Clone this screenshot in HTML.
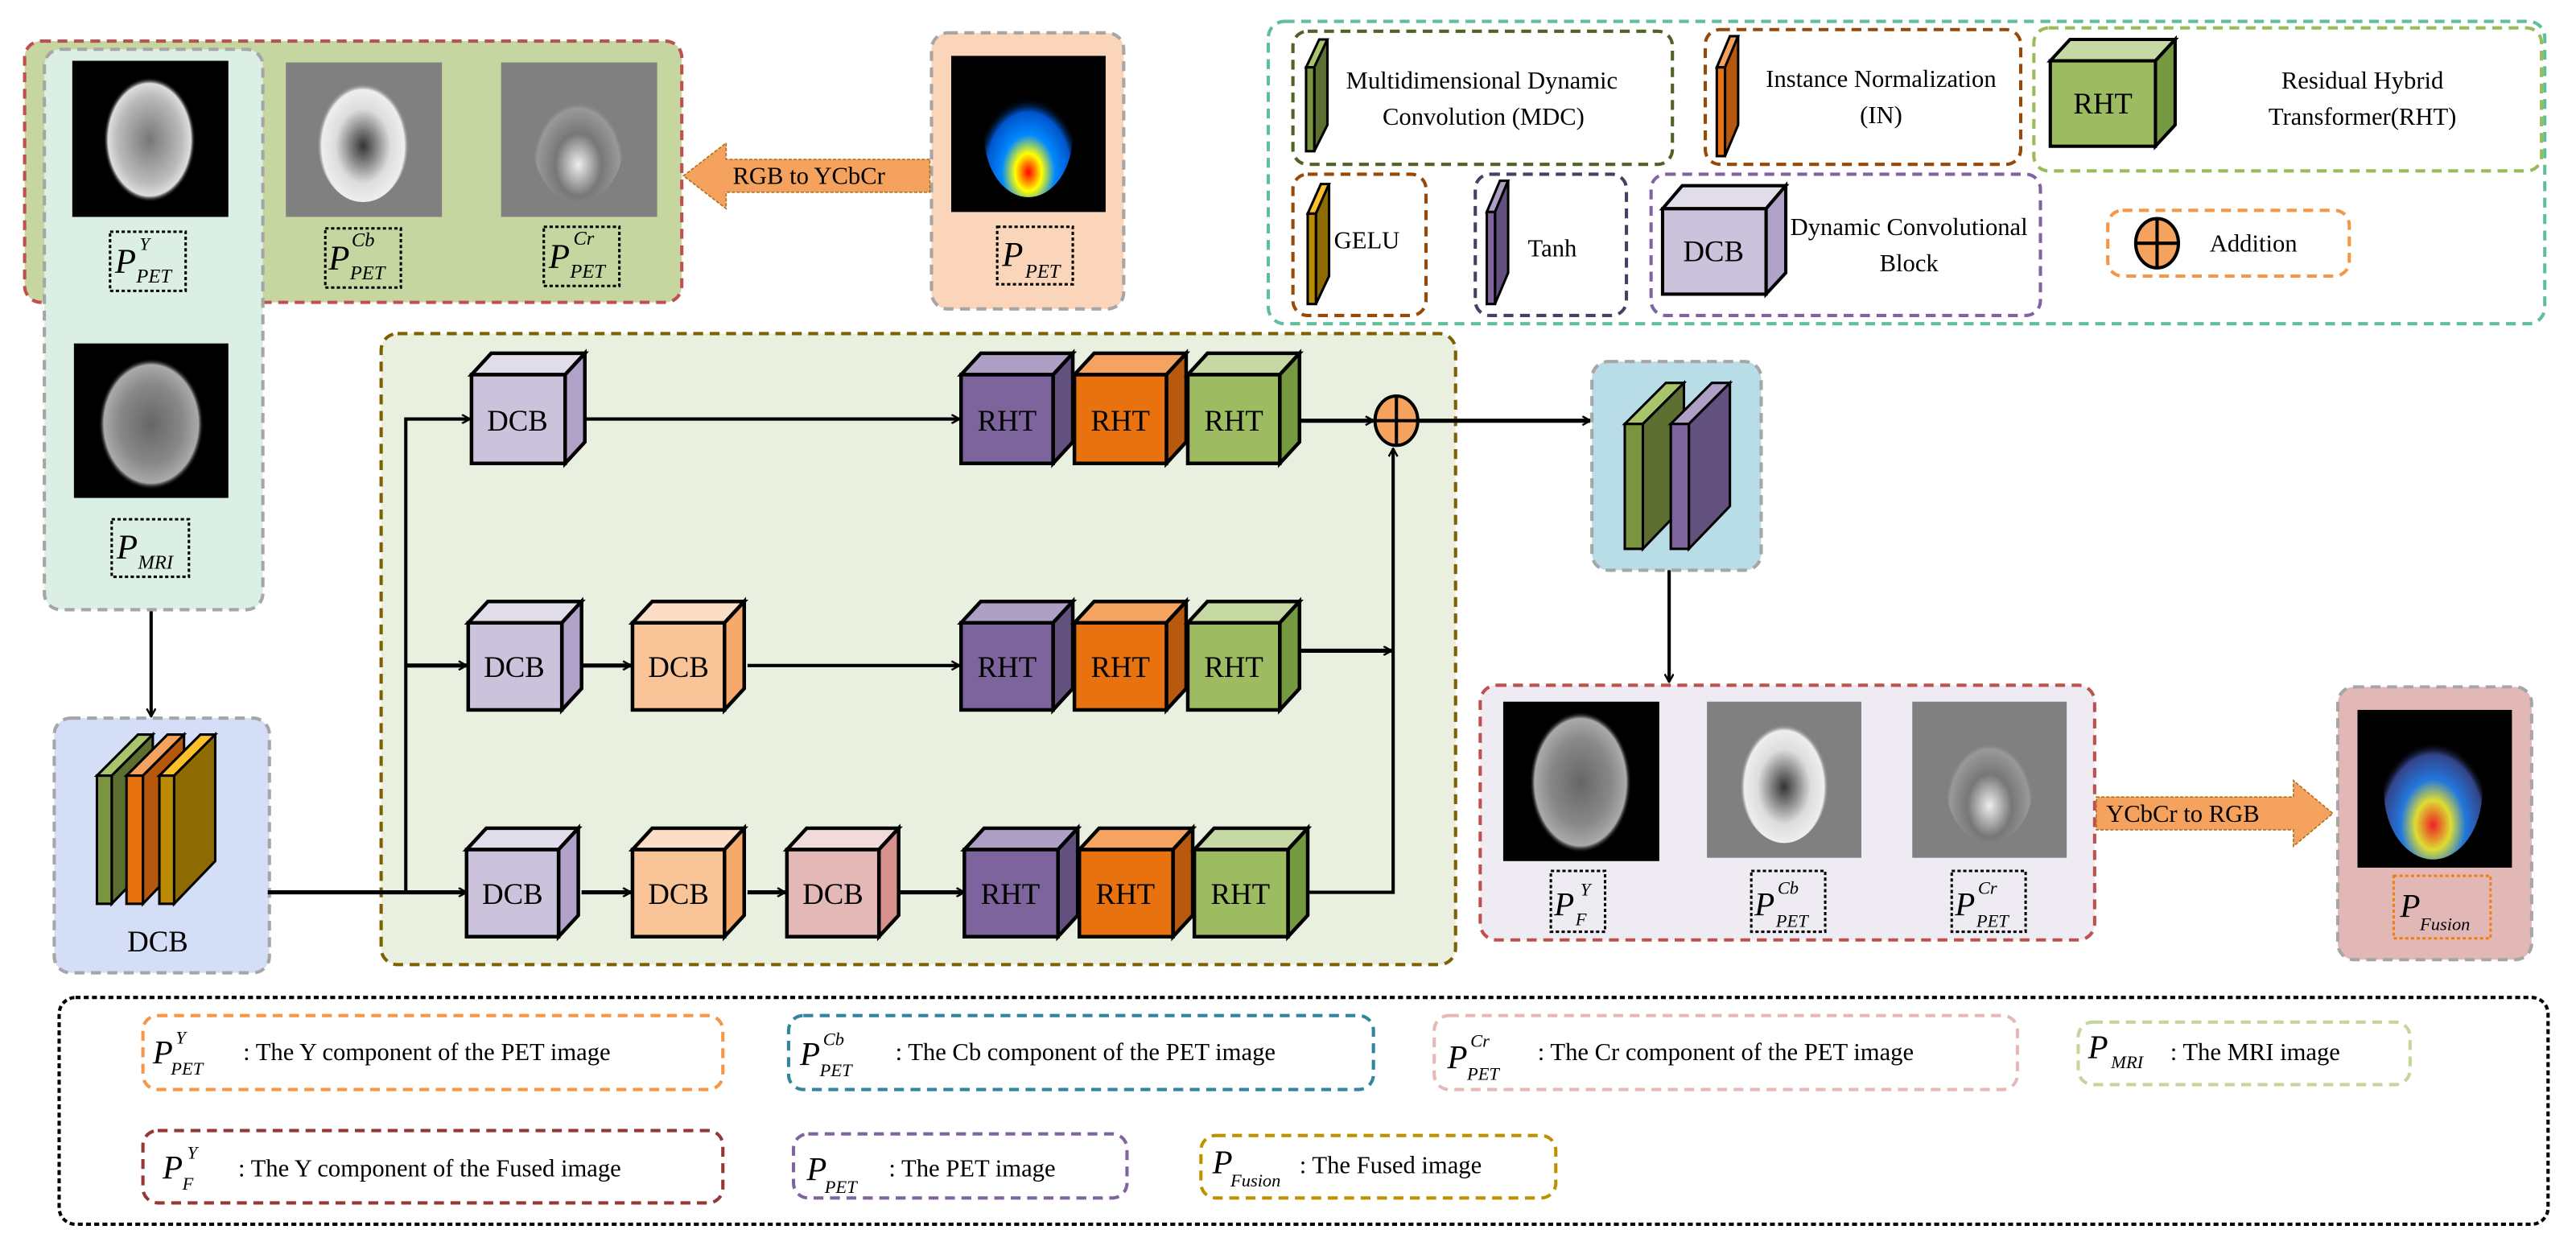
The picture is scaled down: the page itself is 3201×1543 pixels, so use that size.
<!DOCTYPE html>
<html><head><meta charset="utf-8"><style>
html,body{margin:0;padding:0;background:#fff;}
svg{display:block;}
text{font-family:"Liberation Serif",serif;fill:#000;}
.i{font-style:italic;}
</style></head><body>
<svg width="3201" height="1543" viewBox="0 0 1568 755.8" preserveAspectRatio="none" xmlns="http://www.w3.org/2000/svg">
<defs>
<marker id="ah" viewBox="0 0 10 10" refX="9" refY="5" markerWidth="6" markerHeight="6" markerUnits="userSpaceOnUse" orient="auto">
<polyline points="1,0.5 9,5 1,9.5" fill="none" stroke="#000" stroke-width="2"/></marker>
<radialGradient id="gw" cx="50%" cy="50%" r="50%"><stop offset="0" stop-color="#777"/><stop offset="0.7" stop-color="#bbb"/><stop offset="0.9" stop-color="#ddd"/><stop offset="1" stop-color="#000" stop-opacity="0"/></radialGradient>
<radialGradient id="gc" cx="50%" cy="55%" r="50%"><stop offset="0" stop-color="#333"/><stop offset="0.6" stop-color="#ddd"/><stop offset="0.9" stop-color="#eee"/><stop offset="1" stop-color="#808080" stop-opacity="0"/></radialGradient>
<radialGradient id="gr" cx="50%" cy="70%" r="50%"><stop offset="0" stop-color="#eee"/><stop offset="0.5" stop-color="#777"/><stop offset="0.9" stop-color="#999"/><stop offset="1" stop-color="#808080" stop-opacity="0"/></radialGradient>
<radialGradient id="gp" cx="50%" cy="80%" r="60%"><stop offset="0" stop-color="#f00"/><stop offset="0.25" stop-color="#ff0"/><stop offset="0.5" stop-color="#08f"/><stop offset="0.8" stop-color="#05c"/><stop offset="1" stop-color="#000" stop-opacity="0"/></radialGradient>
<radialGradient id="gf" cx="50%" cy="75%" r="60%"><stop offset="0" stop-color="#e22"/><stop offset="0.3" stop-color="#dd3"/><stop offset="0.55" stop-color="#27d"/><stop offset="0.85" stop-color="#348"/><stop offset="1" stop-color="#000" stop-opacity="0"/></radialGradient>
<radialGradient id="gm" cx="50%" cy="50%" r="50%"><stop offset="0" stop-color="#666"/><stop offset="0.6" stop-color="#888"/><stop offset="0.9" stop-color="#aaa"/><stop offset="1" stop-color="#000" stop-opacity="0"/></radialGradient>
</defs>

<!-- top-left group -->
<rect x="15" y="25" width="400" height="159" rx="10" fill="#c5d6a0" stroke="#c0504d" stroke-width="2" stroke-dasharray="6,4"/>
<rect x="27" y="30" width="133" height="341" rx="10" fill="#dcefe4" stroke="#a6a6a6" stroke-width="2" stroke-dasharray="6,4"/>
<rect x="44" y="37" width="95" height="95" fill="#000"/>
<ellipse cx="91" cy="85" rx="28" ry="38" fill="url(#gw)"/>
<rect x="174" y="38" width="95" height="94" fill="#808080"/>
<ellipse cx="221" cy="85" rx="28" ry="38" fill="url(#gc)"/>
<rect x="305" y="38" width="95" height="94" fill="#808080"/>
<ellipse cx="352" cy="85" rx="28" ry="38" fill="url(#gr)"/>
<rect x="45" y="209" width="94" height="94" fill="#000"/>
<ellipse cx="92" cy="258" rx="32" ry="40" fill="url(#gm)"/>
<rect x="67" y="141" width="46" height="36" fill="none" stroke="#000" stroke-width="1.5" stroke-dasharray="2,1.5"/>
<text x="70" y="166" font-size="21" class="i">P</text><text x="85" y="152" font-size="11" class="i">Y</text><text x="83" y="172" font-size="12" class="i">PET</text>
<rect x="198" y="139" width="46" height="36" fill="none" stroke="#000" stroke-width="1.5" stroke-dasharray="2,1.5"/>
<text x="200" y="164" font-size="21" class="i">P</text><text x="214" y="150" font-size="12" class="i">Cb</text><text x="213" y="170" font-size="12" class="i">PET</text>
<rect x="331" y="138" width="46" height="36" fill="none" stroke="#000" stroke-width="1.5" stroke-dasharray="2,1.5"/>
<text x="334" y="163" font-size="21" class="i">P</text><text x="349" y="149" font-size="12" class="i">Cr</text><text x="347" y="169" font-size="12" class="i">PET</text>
<rect x="68" y="316" width="47" height="35" fill="none" stroke="#000" stroke-width="1.5" stroke-dasharray="2,1.5"/>
<text x="71" y="340" font-size="21" class="i">P</text><text x="84" y="346" font-size="12" class="i">MRI</text>

<!-- PET box -->
<rect x="567" y="20" width="117" height="168" rx="10" fill="#fbd5b9" stroke="#a6a6a6" stroke-width="2" stroke-dasharray="6,4"/>
<rect x="579" y="34" width="94" height="95" fill="#000"/>
<ellipse cx="626" cy="82" rx="27" ry="38" fill="url(#gp)"/>
<rect x="607" y="138" width="46" height="35" fill="none" stroke="#000" stroke-width="1.5" stroke-dasharray="2,1.5"/>
<text x="610" y="162" font-size="21" class="i">P</text><text x="624" y="169" font-size="12" class="i">PET</text>
<!-- RGB to YCbCr arrow -->
<polygon points="566,97 442,97 442,87 416,107 442,127 442,117 566,117" fill="#f4a25d" stroke="#b07020" stroke-width="0.8" stroke-dasharray="2,1"/>
<text x="446" y="112" font-size="15">RGB to YCbCr</text>

<!-- top legend -->
<rect x="772" y="13" width="777" height="184" rx="10" fill="none" stroke="#5fbf9a" stroke-width="2" stroke-dasharray="6,4"/>
<rect x="787" y="19" width="231" height="81" rx="9" fill="none" stroke="#4f6228" stroke-width="2" stroke-dasharray="6,4"/>
<polygon points="795,41 800,41 808,24 803,24" fill="#a9c56b" stroke="#000" stroke-width="1.5"/>
<polygon points="800,41 808,24 808,76 800,92" fill="#5c6e30" stroke="#000" stroke-width="1.5"/>
<rect x="795" y="41" width="5" height="51" fill="#7a9440" stroke="#000" stroke-width="1.5"/>
<text x="902" y="54" font-size="15" text-anchor="middle">Multidimensional Dynamic</text>
<text x="903" y="76" font-size="15" text-anchor="middle">Convolution (MDC)</text>
<rect x="1038" y="18" width="192" height="82" rx="9" fill="none" stroke="#984807" stroke-width="2" stroke-dasharray="6,4"/>
<polygon points="1045,41 1050,41 1058,22 1053,22" fill="#f4a25d" stroke="#000" stroke-width="1.5"/>
<polygon points="1050,41 1058,22 1058,76 1050,95" fill="#b5570d" stroke="#000" stroke-width="1.5"/>
<rect x="1045" y="41" width="5" height="54" fill="#e8720f" stroke="#000" stroke-width="1.5"/>
<text x="1145" y="53" font-size="15" text-anchor="middle">Instance Normalization</text>
<text x="1145" y="75" font-size="15" text-anchor="middle">(IN)</text>
<rect x="1238" y="17" width="309" height="87" rx="9" fill="none" stroke="#9bbb59" stroke-width="2" stroke-dasharray="6,4"/>
<polygon points="1248,37 1260,24 1324,24 1312,37" fill="#c6d8a4" stroke="#000" stroke-width="2"/>
<polygon points="1312,37 1324,24 1324,76 1312,89" fill="#759940" stroke="#000" stroke-width="2"/>
<rect x="1248" y="37" width="64" height="52" fill="#9dbb61" stroke="#000" stroke-width="2"/>
<text x="1280" y="69" font-size="18" text-anchor="middle">RHT</text>
<text x="1438" y="54" font-size="15" text-anchor="middle">Residual Hybrid</text>
<text x="1438" y="76" font-size="15" text-anchor="middle">Transformer(RHT)</text>

<rect x="787" y="106" width="81" height="86" rx="9" fill="none" stroke="#984807" stroke-width="2" stroke-dasharray="6,4"/>
<polygon points="796,130 801,130 809,112 804,112" fill="#fcc12a" stroke="#000" stroke-width="1.5"/>
<polygon points="801,130 809,112 809,168 801,185" fill="#8d6a02" stroke="#000" stroke-width="1.5"/>
<rect x="796" y="130" width="5" height="55" fill="#bb8c03" stroke="#000" stroke-width="1.5"/>
<text x="812" y="151" font-size="15">GELU</text>
<rect x="898" y="106" width="92" height="86" rx="9" fill="none" stroke="#4b3d63" stroke-width="2" stroke-dasharray="6,4"/>
<polygon points="905,129 910,129 918,110 913,110" fill="#ada0c4" stroke="#000" stroke-width="1.5"/>
<polygon points="910,129 918,110 918,166 910,185" fill="#62507e" stroke="#000" stroke-width="1.5"/>
<rect x="905" y="129" width="5" height="56" fill="#7d649c" stroke="#000" stroke-width="1.5"/>
<text x="930" y="156" font-size="15">Tanh</text>
<rect x="1005" y="106" width="237" height="86" rx="9" fill="none" stroke="#8064a2" stroke-width="2" stroke-dasharray="6,4"/>
<polygon points="1012,127 1024,113 1087,113 1075,127" fill="#e0dcea" stroke="#000" stroke-width="2"/>
<polygon points="1075,127 1087,113 1087,166 1075,179" fill="#b0a2c8" stroke="#000" stroke-width="2"/>
<rect x="1012" y="127" width="63" height="52" fill="#cbc2dc" stroke="#000" stroke-width="2"/>
<text x="1043" y="159" font-size="18" text-anchor="middle">DCB</text>
<text x="1162" y="143" font-size="15" text-anchor="middle">Dynamic Convolutional</text>
<text x="1162" y="165" font-size="15" text-anchor="middle">Block</text>
<rect x="1283" y="128" width="147" height="40" rx="9" fill="none" stroke="#f79646" stroke-width="2" stroke-dasharray="6,4"/>
<ellipse cx="1313" cy="148" rx="13" ry="15" fill="#f4a25d" stroke="#000" stroke-width="2"/>
<line x1="1300" y1="148" x2="1326" y2="148" stroke="#000" stroke-width="2"/><line x1="1313" y1="133" x2="1313" y2="163" stroke="#000" stroke-width="2"/>
<text x="1345" y="153" font-size="15">Addition</text>

<!-- main box -->
<rect x="232" y="203" width="654" height="384" rx="10" fill="#e9f0df" stroke="#7f6000" stroke-width="2" stroke-dasharray="6,4"/>

<!-- left DCB -->
<rect x="33" y="437" width="131" height="155" rx="10" fill="#d4def6" stroke="#a6a6a6" stroke-width="2" stroke-dasharray="6,4"/>
<polygon points="59,472 68,472 93,447 84,447" fill="#a9c56b" stroke="#000" stroke-width="1.5"/>
<polygon points="68,472 93,447 93,524 68,550" fill="#5c6e30" stroke="#000" stroke-width="1.5"/>
<rect x="59" y="472" width="9" height="78" fill="#7a9440" stroke="#000" stroke-width="1.5"/>
<polygon points="77,472 87,472 112,447 102,447" fill="#f4a25d" stroke="#000" stroke-width="1.5"/>
<polygon points="87,472 112,447 112,524 87,550" fill="#b5570d" stroke="#000" stroke-width="1.5"/>
<rect x="77" y="472" width="10" height="78" fill="#e8720f" stroke="#000" stroke-width="1.5"/>
<polygon points="97,472 106,472 131,447 122,447" fill="#fcc12a" stroke="#000" stroke-width="1.5"/>
<polygon points="106,472 131,447 131,524 106,550" fill="#8d6a02" stroke="#000" stroke-width="1.5"/>
<rect x="97" y="472" width="9" height="78" fill="#bb8c03" stroke="#000" stroke-width="1.5"/>
<text x="96" y="579" font-size="18" text-anchor="middle">DCB</text>
<line x1="92" y1="372" x2="92" y2="436" stroke="#000" stroke-width="2" marker-end="url(#ah)"/>

<!-- connectors -->
<line x1="163" y1="543" x2="284" y2="543" stroke="#000" stroke-width="2.5" marker-end="url(#ah)"/>
<polyline points="247,543 247,255 286,255" fill="none" stroke="#000" stroke-width="2" marker-end="url(#ah)"/>
<line x1="247" y1="405" x2="284" y2="405" stroke="#000" stroke-width="2.5" marker-end="url(#ah)"/>
<line x1="356" y1="255" x2="584" y2="255" stroke="#000" stroke-width="2" marker-end="url(#ah)"/>
<line x1="355" y1="405" x2="384" y2="405" stroke="#000" stroke-width="2.5" marker-end="url(#ah)"/>
<line x1="455" y1="405" x2="584" y2="405" stroke="#000" stroke-width="2" marker-end="url(#ah)"/>
<line x1="354" y1="543" x2="384" y2="543" stroke="#000" stroke-width="2.5" marker-end="url(#ah)"/>
<line x1="455" y1="543" x2="478" y2="543" stroke="#000" stroke-width="2.5" marker-end="url(#ah)"/>
<line x1="547" y1="543" x2="587" y2="543" stroke="#000" stroke-width="2.5" marker-end="url(#ah)"/>
<polyline points="796,543 848,543 848,273" fill="none" stroke="#000" stroke-width="2" marker-end="url(#ah)"/>
<line x1="792" y1="396" x2="847" y2="396" stroke="#000" stroke-width="2.5" marker-end="url(#ah)"/>
<line x1="791" y1="256" x2="836" y2="256" stroke="#000" stroke-width="2.5" marker-end="url(#ah)"/>
<line x1="863" y1="256" x2="968" y2="256" stroke="#000" stroke-width="2.5" marker-end="url(#ah)"/>
<ellipse cx="850" cy="256" rx="13" ry="15" fill="#f4a25d" stroke="#000" stroke-width="2"/>
<line x1="837" y1="256" x2="863" y2="256" stroke="#000" stroke-width="2"/><line x1="850" y1="241" x2="850" y2="271" stroke="#000" stroke-width="2"/>

<!-- cubes -->
<g stroke="#000" stroke-width="2.2">
<polygon points="287,228 299,215 356,215 344,228" fill="#e0dcea"/><polygon points="344,228 356,215 356,269 344,282" fill="#b0a2c8"/><rect x="287" y="228" width="57" height="54" fill="#cbc2dc"/>
<polygon points="585,228 597,215 653,215 641,228" fill="#ada0c4"/><polygon points="641,228 653,215 653,269 641,282" fill="#62507e"/><rect x="585" y="228" width="56" height="54" fill="#7d649c"/>
<polygon points="654,228 666,215 722,215 710,228" fill="#f4a460"/><polygon points="710,228 722,215 722,269 710,282" fill="#b75a10"/><rect x="654" y="228" width="56" height="54" fill="#e8720f"/>
<polygon points="723,228 735,215 791,215 779,228" fill="#c6d8a4"/><polygon points="779,228 791,215 791,269 779,282" fill="#759940"/><rect x="723" y="228" width="56" height="54" fill="#9dbb61"/>
<polygon points="285,379 297,366 354,366 342,379" fill="#e0dcea"/><polygon points="342,379 354,366 354,419 342,432" fill="#b0a2c8"/><rect x="285" y="379" width="57" height="53" fill="#cbc2dc"/>
<polygon points="385,379 397,366 453,366 441,379" fill="#fcdec6"/><polygon points="441,379 453,366 453,419 441,432" fill="#f5a96a"/><rect x="385" y="379" width="56" height="53" fill="#f9c598"/>
<polygon points="585,379 597,366 653,366 641,379" fill="#ada0c4"/><polygon points="641,379 653,366 653,419 641,432" fill="#62507e"/><rect x="585" y="379" width="56" height="53" fill="#7d649c"/>
<polygon points="654,379 666,366 722,366 710,379" fill="#f4a460"/><polygon points="710,379 722,366 722,419 710,432" fill="#b75a10"/><rect x="654" y="379" width="56" height="53" fill="#e8720f"/>
<polygon points="723,379 735,366 791,366 779,379" fill="#c6d8a4"/><polygon points="779,379 791,366 791,419 779,432" fill="#759940"/><rect x="723" y="379" width="56" height="53" fill="#9dbb61"/>
<polygon points="284,517 296,504 352,504 340,517" fill="#e0dcea"/><polygon points="340,517 352,504 352,557 340,570" fill="#b0a2c8"/><rect x="284" y="517" width="56" height="53" fill="#cbc2dc"/>
<polygon points="385,517 397,504 453,504 441,517" fill="#fcdec6"/><polygon points="441,517 453,504 453,557 441,570" fill="#f5a96a"/><rect x="385" y="517" width="56" height="53" fill="#f9c598"/>
<polygon points="479,517 491,504 547,504 535,517" fill="#f0dada"/><polygon points="535,517 547,504 547,557 535,570" fill="#d6918d"/><rect x="479" y="517" width="56" height="53" fill="#e3b8b6"/>
<polygon points="587,517 599,504 656,504 644,517" fill="#ada0c4"/><polygon points="644,517 656,504 656,557 644,570" fill="#62507e"/><rect x="587" y="517" width="57" height="53" fill="#7d649c"/>
<polygon points="657,517 669,504 726,504 714,517" fill="#f4a460"/><polygon points="714,517 726,504 726,557 714,570" fill="#b75a10"/><rect x="657" y="517" width="57" height="53" fill="#e8720f"/>
<polygon points="727,517 739,504 796,504 784,517" fill="#c6d8a4"/><polygon points="784,517 796,504 796,557 784,570" fill="#759940"/><rect x="727" y="517" width="57" height="53" fill="#9dbb61"/>
</g>
<g font-size="18" text-anchor="middle">
<text x="315" y="262">DCB</text><text x="613" y="262">RHT</text><text x="682" y="262">RHT</text><text x="751" y="262">RHT</text>
<text x="313" y="412">DCB</text><text x="413" y="412">DCB</text><text x="613" y="412">RHT</text><text x="682" y="412">RHT</text><text x="751" y="412">RHT</text>
<text x="312" y="550">DCB</text><text x="413" y="550">DCB</text><text x="507" y="550">DCB</text><text x="615" y="550">RHT</text><text x="685" y="550">RHT</text><text x="755" y="550">RHT</text>
</g>

<!-- blue box -->
<rect x="969" y="220" width="103" height="127" rx="10" fill="#b8dde6" stroke="#a6a6a6" stroke-width="2" stroke-dasharray="6,4"/>
<polygon points="989,258 1000,258 1025,233 1014,233" fill="#a9c56b" stroke="#000" stroke-width="1.5"/>
<polygon points="1000,258 1025,233 1025,308 1000,334" fill="#5c6e30" stroke="#000" stroke-width="1.5"/>
<rect x="989" y="258" width="11" height="76" fill="#7a9440" stroke="#000" stroke-width="1.5"/>
<polygon points="1017,258 1028,258 1053,233 1042,233" fill="#ada0c4" stroke="#000" stroke-width="1.5"/>
<polygon points="1028,258 1053,233 1053,308 1028,334" fill="#62507e" stroke="#000" stroke-width="1.5"/>
<rect x="1017" y="258" width="11" height="76" fill="#7d649c" stroke="#000" stroke-width="1.5"/>
<line x1="1016" y1="347" x2="1016" y2="415" stroke="#000" stroke-width="2" marker-end="url(#ah)"/>

<!-- fused components box -->
<rect x="901" y="417" width="374" height="155" rx="10" fill="#eeebf2" stroke="#c0504d" stroke-width="2" stroke-dasharray="6,4"/>
<rect x="915" y="427" width="95" height="97" fill="#000"/>
<ellipse cx="962" cy="476" rx="31" ry="43" fill="url(#gm)"/>
<rect x="1039" y="427" width="94" height="95" fill="#808080"/>
<ellipse cx="1086" cy="475" rx="27" ry="38" fill="url(#gc)"/>
<rect x="1164" y="427" width="94" height="95" fill="#808080"/>
<ellipse cx="1211" cy="475" rx="27" ry="38" fill="url(#gr)"/>
<rect x="944" y="530" width="33" height="37" fill="none" stroke="#000" stroke-width="1.5" stroke-dasharray="2,1.5"/>
<text x="946" y="557" font-size="20" class="i">P</text><text x="962" y="545" font-size="11" class="i">Y</text><text x="959" y="563" font-size="11" class="i">F</text>
<rect x="1066" y="530" width="45" height="37" fill="none" stroke="#000" stroke-width="1.5" stroke-dasharray="2,1.5"/>
<text x="1068" y="557" font-size="20" class="i">P</text><text x="1082" y="544" font-size="11" class="i">Cb</text><text x="1081" y="564" font-size="11" class="i">PET</text>
<rect x="1188" y="530" width="45" height="37" fill="none" stroke="#000" stroke-width="1.5" stroke-dasharray="2,1.5"/>
<text x="1190" y="557" font-size="20" class="i">P</text><text x="1204" y="544" font-size="11" class="i">Cr</text><text x="1203" y="564" font-size="11" class="i">PET</text>
<polygon points="1276,485 1396,485 1396,475 1420,495 1396,515 1396,505 1276,505" fill="#f4a25d" stroke="#b07020" stroke-width="0.8" stroke-dasharray="2,1"/>
<text x="1282" y="500" font-size="15">YCbCr to RGB</text>

<!-- fusion box -->
<rect x="1423" y="418" width="118" height="166" rx="10" fill="#e2b8b6" stroke="#a6a6a6" stroke-width="2" stroke-dasharray="6,4"/>
<rect x="1435" y="432" width="94" height="96" fill="#000"/>
<ellipse cx="1481" cy="481" rx="30" ry="42" fill="url(#gf)"/>
<rect x="1457" y="533" width="59" height="38" fill="none" stroke="#f07f10" stroke-width="1.5" stroke-dasharray="2,1.5"/>
<text x="1461" y="558" font-size="20" class="i">P</text><text x="1473" y="566" font-size="11" class="i">Fusion</text>

<!-- bottom legend -->
<rect x="36" y="607" width="1515" height="138" rx="10" fill="none" stroke="#000" stroke-width="2" stroke-dasharray="3,2"/>
<g stroke-width="2" stroke-dasharray="6,4" fill="none">
<rect x="87" y="618" width="353" height="45" rx="9" stroke="#f79646"/>
<rect x="480" y="618" width="356" height="45" rx="9" stroke="#31859c"/>
<rect x="873" y="618" width="355" height="45" rx="9" stroke="#e6b9b8"/>
<rect x="1265" y="622" width="202" height="38" rx="9" stroke="#c3d69b"/>
<rect x="87" y="688" width="353" height="44" rx="9" stroke="#953735"/>
<rect x="483" y="690" width="203" height="39" rx="9" stroke="#8064a2"/>
<rect x="731" y="691" width="216" height="38" rx="9" stroke="#bf9000"/>
</g>
<g font-size="15">
<text x="93" y="647" font-size="20" class="i">P</text><text x="107" y="635" font-size="11" class="i">Y</text><text x="104" y="654" font-size="11" class="i">PET</text>
<text x="148" y="645">:  The Y component of the PET image</text>
<text x="487" y="648" font-size="20" class="i">P</text><text x="501" y="636" font-size="11" class="i">Cb</text><text x="499" y="655" font-size="11" class="i">PET</text>
<text x="545" y="645">:  The Cb component of the PET image</text>
<text x="881" y="650" font-size="20" class="i">P</text><text x="895" y="637" font-size="11" class="i">Cr</text><text x="893" y="657" font-size="11" class="i">PET</text>
<text x="936" y="645">:  The Cr component of the PET image</text>
<text x="1271" y="644" font-size="20" class="i">P</text><text x="1285" y="650" font-size="11" class="i">MRI</text>
<text x="1321" y="645">:  The  MRI image</text>
<text x="99" y="717" font-size="20" class="i">P</text><text x="114" y="705" font-size="11" class="i">Y</text><text x="111" y="724" font-size="11" class="i">F</text>
<text x="145" y="716">:  The Y component of the Fused image</text>
<text x="491" y="718" font-size="20" class="i">P</text><text x="502" y="726" font-size="11" class="i">PET</text>
<text x="541" y="716">:  The  PET image</text>
<text x="738" y="714" font-size="20" class="i">P</text><text x="749" y="722" font-size="11" class="i">Fusion</text>
<text x="791" y="714">:  The  Fused image</text>
</g>
</svg>
</body></html>
